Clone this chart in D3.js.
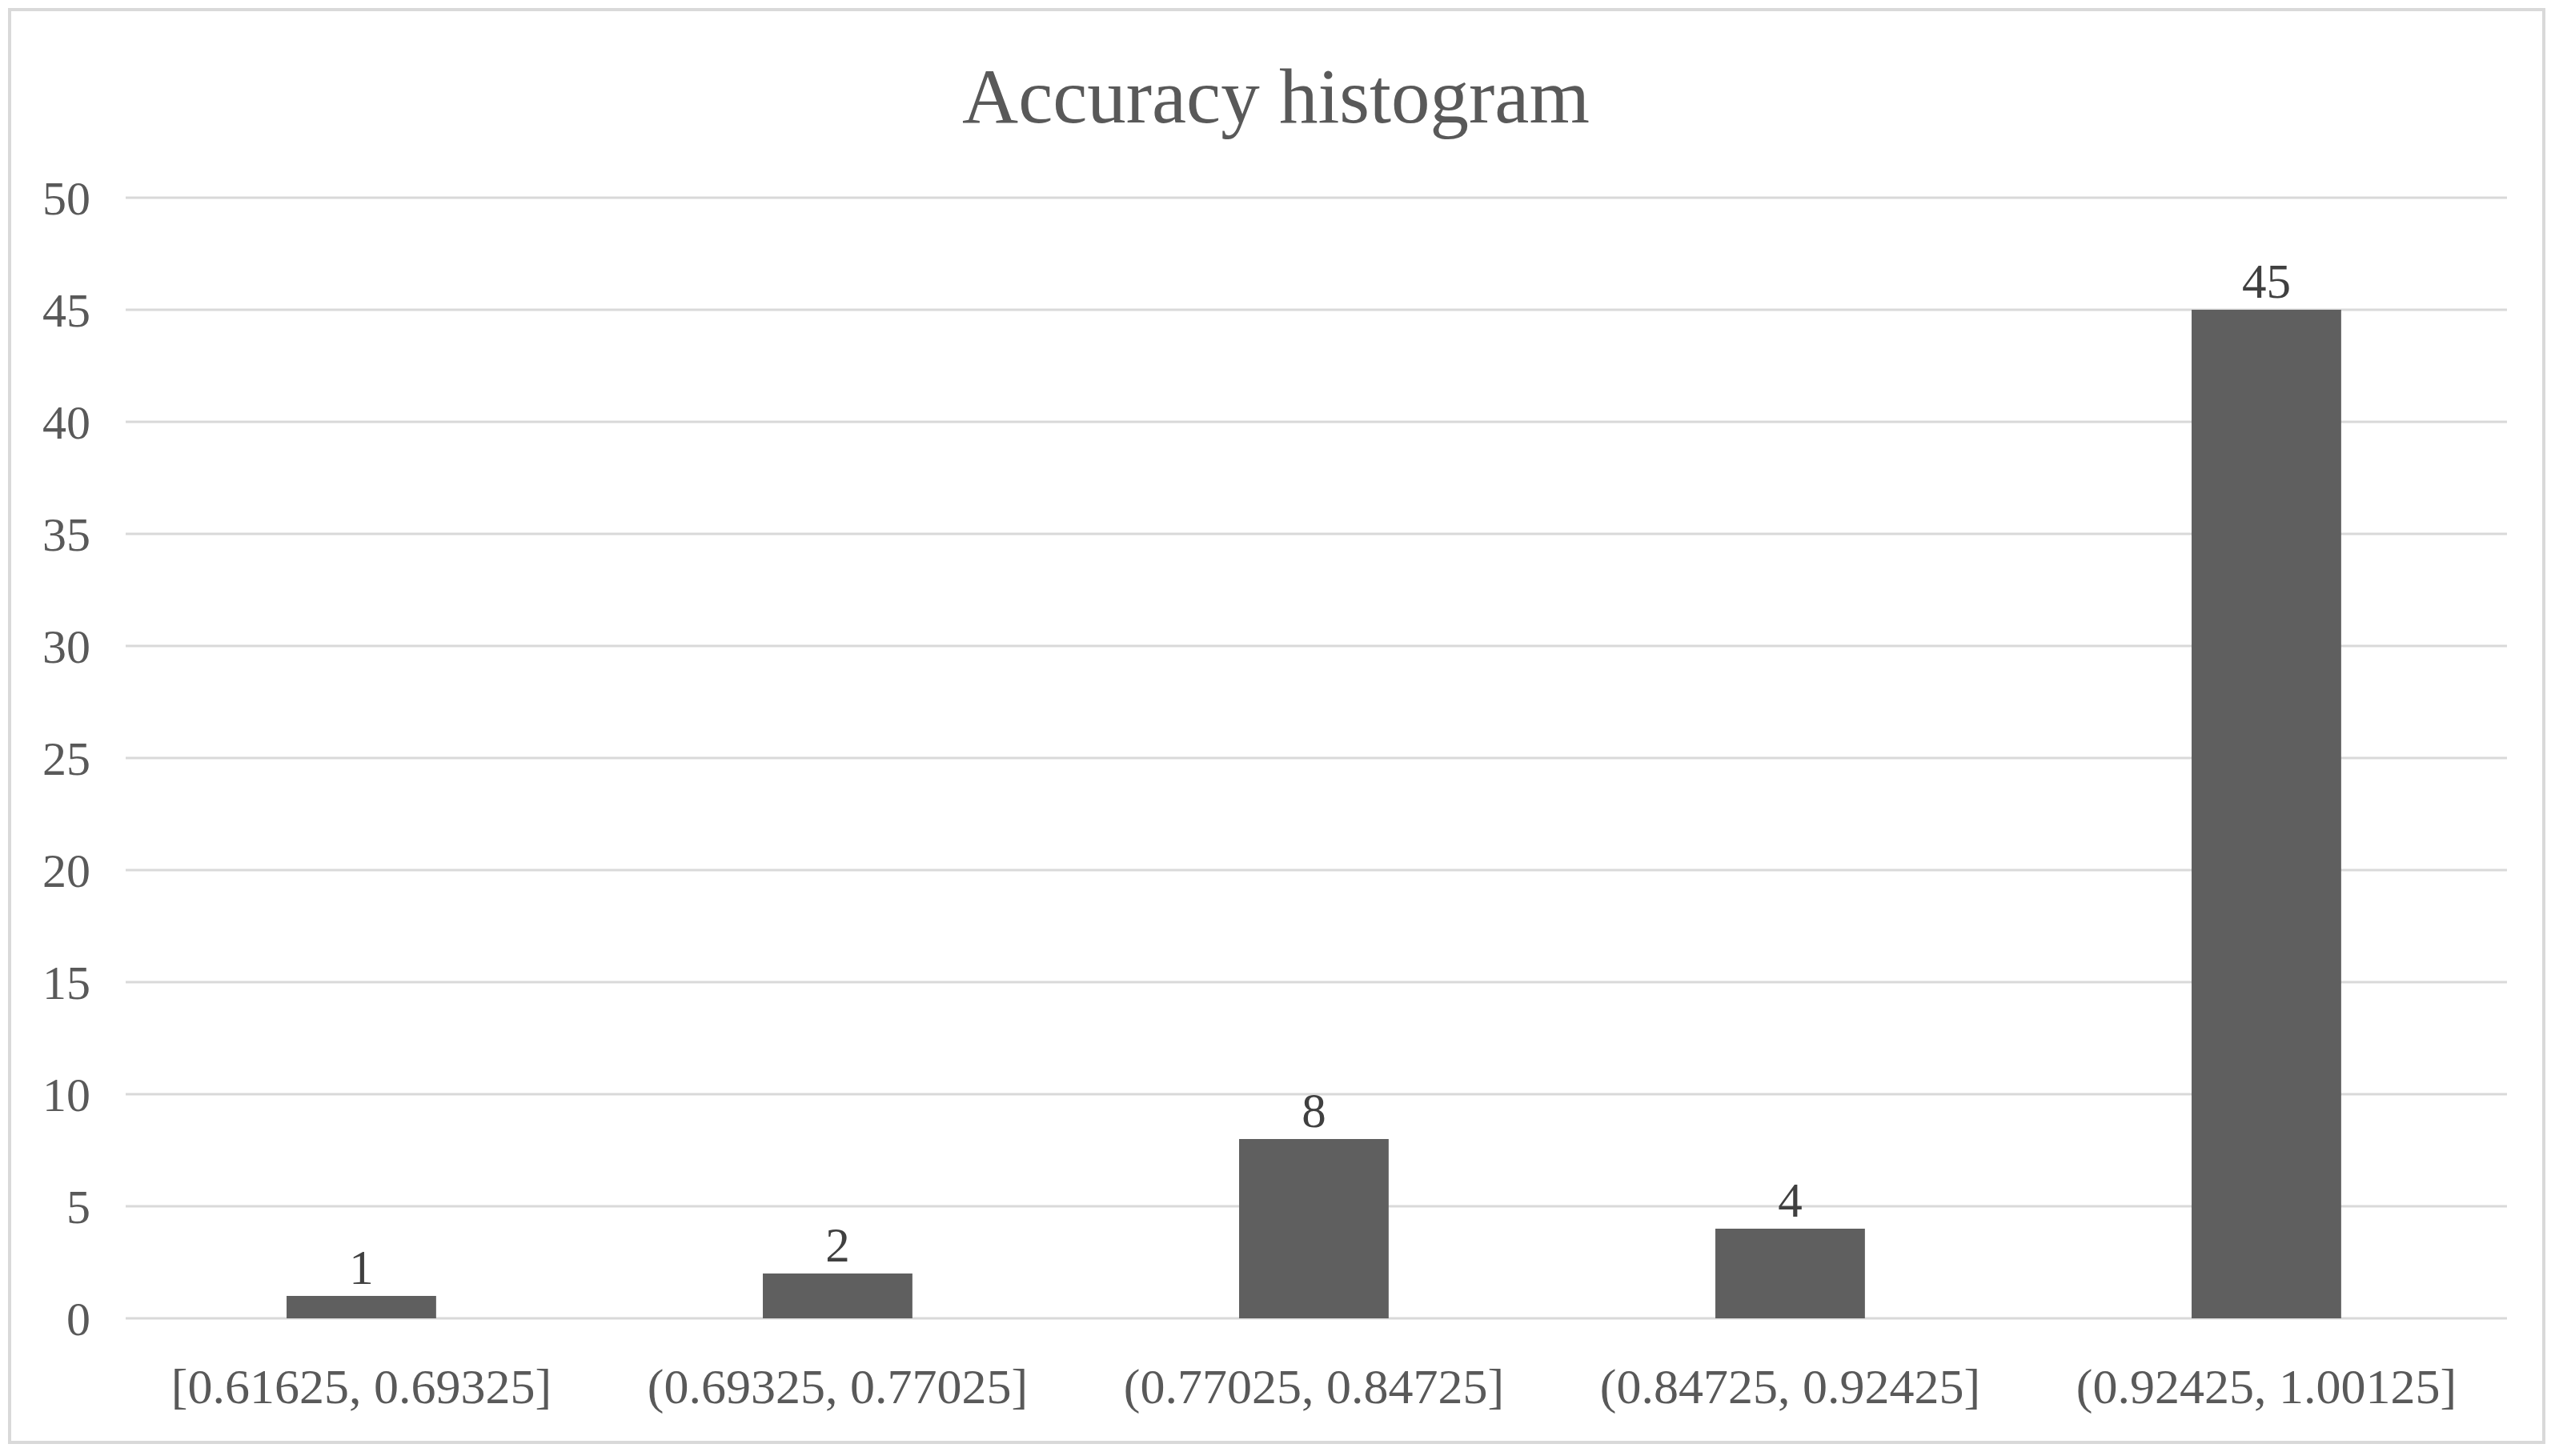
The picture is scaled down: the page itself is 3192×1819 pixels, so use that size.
<!DOCTYPE html>
<html lang="en">
<head>
  <meta charset="UTF-8">
  <title>Accuracy histogram</title>
  <style>
    body { margin: 0; background: #fff; }
    text { font-family: "Liberation Serif", "Times New Roman", serif; fill: #595959; }
  </style>
</head>
<body>
  <svg id="svg" width="3192" height="1819"></svg>
  <script src="https://d3js.org/d3.v7.min.js"></script>
  <script>
    const bins = ['[0.61625, 0.69325]', '(0.69325, 0.77025]', '(0.77025, 0.84725]', '(0.84725, 0.92425]', '(0.92425, 1.00125]']
    const counts = [1, 2, 8, 4, 45]
    const yTicks = [0, 5, 10, 15, 20, 25, 30, 35, 40, 45, 50]

    const data = bins.map((b, i) => ({ bin: b, count: counts[i] }))

    const plotLeft = 157, plotRight = 3132, plotTop = 247, plotBottom = 1647

    const svg = d3.select('#svg')

    // outer frame
    svg.append('rect')
      .attr('x', 12).attr('y', 12)
      .attr('width', 3166).attr('height', 1790)
      .attr('fill', '#fff')
      .attr('stroke', '#d9d9d9')
      .attr('stroke-width', 4)

    const xScale = d3.scaleBand()
      .domain(bins)
      .range([plotLeft, plotRight])
      .paddingInner(0.686)
      .paddingOuter(0.343)
      .align(0.4925)

    const yScale = d3.scaleLinear()
      .domain([0, 50])
      .range([plotBottom, plotTop])

    // gridlines
    svg.append('g')
      .selectAll('line')
      .data(yTicks)
      .enter()
      .append('line')
      .attr('x1', plotLeft)
      .attr('x2', plotRight)
      .attr('y1', d => yScale(d))
      .attr('y2', d => yScale(d))
      .attr('stroke', '#d9d9d9')
      .attr('stroke-width', 3)

    // y axis labels
    const yAxis = d3.axisLeft(yScale).tickValues(yTicks).tickSize(0).tickPadding(0)
    const gy = svg.append('g')
      .attr('transform', `translate(113,0)`)
      .call(yAxis)
    gy.select('.domain').remove()
    gy.selectAll('text')
      .attr('font-size', 60)
      .attr('font-family', '"Liberation Serif", serif')
      .attr('fill', '#595959')
      .attr('dy', '0.34em')

    // bars
    svg.append('g')
      .selectAll('rect')
      .data(data)
      .enter()
      .append('rect')
      .attr('x', d => xScale(d.bin))
      .attr('y', d => yScale(d.count))
      .attr('width', xScale.bandwidth())
      .attr('height', d => yScale(0) - yScale(d.count))
      .attr('fill', '#5f5f5f')

    // value labels
    svg.append('g')
      .selectAll('text')
      .data(data)
      .enter()
      .append('text')
      .attr('x', d => xScale(d.bin) + xScale.bandwidth() / 2)
      .attr('y', d => yScale(d.count) - 15)
      .attr('text-anchor', 'middle')
      .attr('font-size', 61)
      .style('fill', '#404040')
      .text(d => d.count)

    // x axis labels
    const xAxis = d3.axisBottom(xScale).tickSize(0).tickPadding(0)
    const gx = svg.append('g')
      .attr('transform', `translate(0,${plotBottom})`)
      .call(xAxis)
    gx.select('.domain').remove()
    gx.selectAll('text')
      .attr('font-size', 62)
      .attr('font-family', '"Liberation Serif", serif')
      .attr('fill', '#595959')
      .attr('dy', 0)
      .attr('y', 106)

    // title
    svg.append('text')
      .attr('x', 1594)
      .attr('y', 153)
      .attr('text-anchor', 'middle')
      .attr('font-size', 97)
      .text('Accuracy histogram')
  </script>
</body>
</html>
